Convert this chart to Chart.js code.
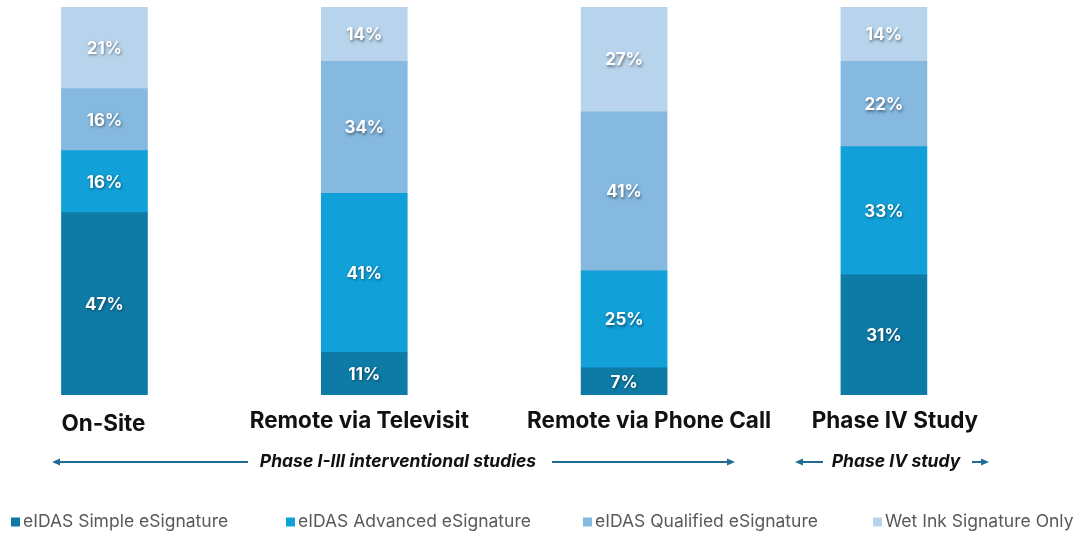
<!DOCTYPE html>
<html>
<head>
<meta charset="utf-8">
<script src="https://cdn.jsdelivr.net/npm/chart.js@4/dist/chart.umd.min.js"></script>
<style>
  html, body { margin: 0; padding: 0; background: #fff; }
  #wrap { width: 1078px; height: 533px; position: relative; }
</style>
</head>
<body>
<div id="wrap"><canvas id="grafico"></canvas></div>
<script>
// Categorias e valores (%) por tipo de assinatura
const categorias = ['On-Site', 'Remote via Televisit', 'Remote via Phone Call', 'Phase IV Study'];
const nomesSeries = ['eIDAS Simple eSignature', 'eIDAS Advanced eSignature', 'eIDAS Qualified eSignature', 'Wet Ink Signature Only'];
const simples = [47, 11, 7, 31];
const avancada = [16, 41, 25, 33];
const qualificada = [16, 34, 41, 22];
const tintaMolhada = [21, 14, 27, 14];
const faseTextos = ['Phase I-III interventional studies', 'Phase IV study'];

const cores = ['#0E7BA6', '#11A0D7', '#85B9E0', '#B8D4EC'];
const corSeta = '#1E6B95';
const fonte = 'Inter, "Liberation Sans", sans-serif';

const series = [simples, avancada, qualificada, tintaMolhada];

// Rótulos de valor dentro de cada segmento (branco com sombra)
const rotulosValor = {
  id: 'rotulosValor',
  afterDatasetsDraw(chart) {
    const ctx = chart.ctx;
    ctx.save();
    ctx.font = 'bold 17px ' + fonte;
    ctx.fillStyle = '#fff';
    ctx.textAlign = 'center';
    ctx.textBaseline = 'middle';
    ctx.shadowColor = 'rgba(0,0,0,0.45)';
    ctx.shadowBlur = 3;
    ctx.shadowOffsetX = 1;
    ctx.shadowOffsetY = 1.5;
    chart.data.datasets.forEach(function(ds, i) {
      chart.getDatasetMeta(i).data.forEach(function(bar, j) {
        const p = bar.getCenterPoint();
        ctx.fillText(ds.data[j].y + '%', p.x, p.y + 1);
      });
    });
    ctx.restore();
  }
};

// Nomes das categorias, setas de fase e legenda
const desenhoExtra = {
  id: 'desenhoExtra',
  afterDraw(chart) {
    const ctx = chart.ctx;
    const x = chart.scales.x;
    ctx.save();

    // nomes das categorias sob as barras
    const desloc = [-1, -5, 25, 11];
    const altura = [424, 421, 421, 421];
    ctx.font = 'bold 22.5px ' + fonte;
    ctx.fillStyle = '#111';
    ctx.textAlign = 'center';
    ctx.textBaseline = 'middle';
    categorias.forEach(function(c, i) {
      ctx.fillText(c, x.getPixelForValue(i) + desloc[i], altura[i]);
    });

    // setas
    function seta(x1, x2, y, pontaEsq) {
      ctx.strokeStyle = corSeta;
      ctx.fillStyle = corSeta;
      ctx.lineWidth = 2;
      ctx.beginPath();
      if (pontaEsq) {
        ctx.moveTo(x1 + 6, y); ctx.lineTo(x2, y);
      } else {
        ctx.moveTo(x1, y); ctx.lineTo(x2 - 6, y);
      }
      ctx.stroke();
      ctx.beginPath();
      if (pontaEsq) {
        ctx.moveTo(x1, y); ctx.lineTo(x1 + 8, y - 3.5); ctx.lineTo(x1 + 8, y + 3.5);
      } else {
        ctx.moveTo(x2, y); ctx.lineTo(x2 - 8, y - 3.5); ctx.lineTo(x2 - 8, y + 3.5);
      }
      ctx.closePath();
      ctx.fill();
    }
    const ySeta = 462;
    seta(52, 248, ySeta, true);
    seta(552, 735, ySeta, false);
    seta(795, 823, ySeta, true);
    seta(972, 989, ySeta, false);

    ctx.font = 'italic bold 17.5px ' + fonte;
    ctx.fillStyle = '#111';
    ctx.fillText(faseTextos[0], 398, ySeta);
    ctx.fillText(faseTextos[1], 896, ySeta);

    // legenda
    const legX = [11, 286, 583, 873];
    const yLeg = 522;
    ctx.font = '17.5px ' + fonte;
    ctx.textAlign = 'left';
    nomesSeries.forEach(function(n, i) {
      ctx.fillStyle = cores[i];
      ctx.fillRect(legX[i], yLeg - 4.5, 9, 9);
      ctx.fillStyle = '#595959';
      ctx.fillText(n, legX[i] + 12, yLeg);
    });

    ctx.restore();
  }
};

const ctxGrafico = document.getElementById('grafico').getContext('2d');
const grafico = new Chart(ctxGrafico, {
  type: 'bar',
  data: {
    datasets: series.map(function(valores, i) {
      return {
        label: nomesSeries[i],
        data: valores.map(function(v, j) { return { x: j, y: v }; }),
        backgroundColor: cores[i],
        borderWidth: 0,
        barThickness: 86
      };
    })
  },
  options: {
    responsive: true,
    maintainAspectRatio: false,
    animation: { duration: 0 },
    layout: { padding: { top: 7, bottom: 138, left: 0, right: 0 } },
    plugins: {
      legend: { display: false },
      tooltip: { enabled: false }
    },
    scales: {
      x: {
        type: 'linear',
        stacked: true,
        offset: false,
        min: -0.402,
        max: 3.747,
        display: false
      },
      y: {
        stacked: true,
        min: 0,
        max: 100,
        display: false
      }
    }
  },
  plugins: [rotulosValor, desenhoExtra]
});
</script>
</body>
</html>
